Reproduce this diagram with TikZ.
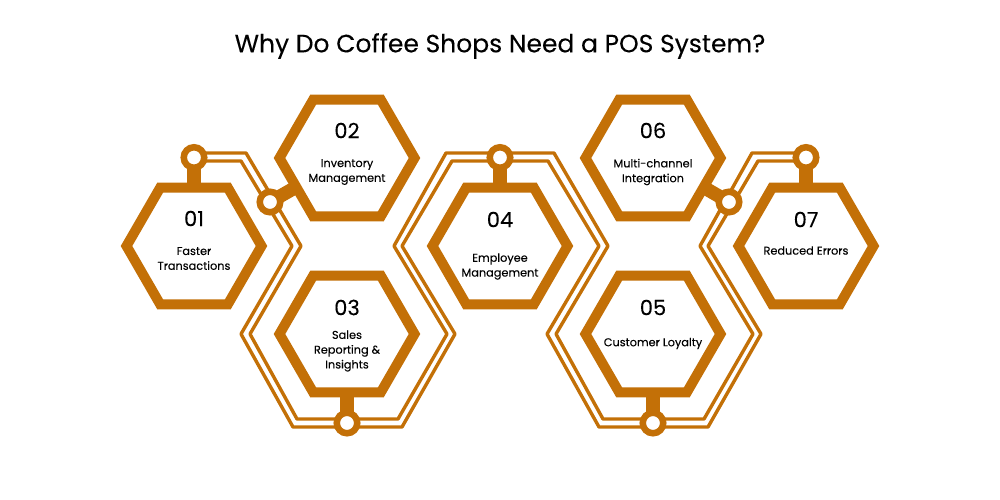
\documentclass[tikz,border=0pt]{standalone}
\usepackage{fontspec}
\setmainfont{Poppins}[FakeBold=0.12]
\usetikzlibrary{shapes.geometric,backgrounds}
\definecolor{brew}{HTML}{C37007}
\tikzset{
  x=1pt,y=-1pt,
  hexa/.style={regular polygon,regular polygon sides=6,minimum size=135pt,inner sep=0pt,outer sep=0pt,draw=brew,line width=10pt,fill=white,line join=miter},
  hub/.style={circle,minimum size=20.5pt,inner sep=0pt,outer sep=0pt,draw=brew,line width=6.5pt,fill=white},
  stem/.style={draw=brew,line width=13.5pt},
  wire/.style={draw=brew,line width=3.4pt,line join=round},
  num/.style={font=\fontsize{21}{24}\selectfont,text=black,inner sep=0pt},
  lab/.style={font=\fontsize{11.3}{14.8}\selectfont,text=black,align=center,inner sep=0pt},
  ttl/.style={font=\fontsize{25}{30}\selectfont,text=black,inner sep=0pt}
}
\begin{document}
\begin{tikzpicture}
\useasboundingbox (0,0) rectangle (1000,500);
\node[ttl] (title) at (500,46) {Why Do Coffee Shops Need a POS System?};
% hexagons
\node[hexa] (h1) at (194,246) {};
\node[hexa] (h2) at (347,158) {};
\node[hexa] (h3) at (347,334) {};
\node[hexa] (h4) at (500,246) {};
\node[hexa] (h5) at (653,334) {};
\node[hexa] (h6) at (653,158) {};
\node[hexa] (h7) at (806,246) {};
% hubs
\node[hub] (c1) at (194,157.5) {};
\node[hub] (c2) at (270,202) {};
\node[hub] (c3) at (347,423) {};
\node[hub] (c4) at (500,157.5) {};
\node[hub] (c5) at (653,423) {};
\node[hub] (c6) at (729,202) {};
\node[hub] (c7) at (806,157.5) {};
% numbers
\node[num] (n1) at (194,218.5) {01};
\node[num] (n2) at (347,130.5) {02};
\node[num] (n3) at (347,307.5) {03};
\node[num] (n4) at (500,219.5) {04};
\node[num] (n5) at (653,307.5) {05};
\node[num] (n6) at (653,130.5) {06};
\node[num] (n7) at (806,219.5) {07};
% labels
\node[lab] (l1) at (194,258.5) {Faster\\Transactions};
\node[lab] (l2) at (347,172) {Inventory\\Management};
\node[lab] (l3) at (347,351) {Sales\\Reporting \&\\Insights};
\node[lab] (l4) at (500,266.5) {Employee\\Management};
\node[lab] (l5) at (653,343.5) {Customer Loyalty};
\node[lab] (l6) at (653,172) {Multi-channel\\Integration};
\node[lab] (l7) at (806,250.5) {Reduced Errors};
\begin{scope}[on background layer]
  \draw[wire] ([yshift=4.5pt]c1.center) -- (246,153) -- (301,246) -- (250,334) -- (297,419) -- (398,419)
    -- (447,334) -- (394,246) -- (446,153) -- (554,153) -- (608,246) -- (556,334) -- (603,419) -- (704,419)
    -- (753,334) -- (700,246) -- (752,153) -- ([yshift=4.5pt]c7.center);
  \draw[wire] ([yshift=-3.5pt]c1.center) -- (241,161) -- (292,246) -- (241,334) -- (293,427) -- (402,427)
    -- (455,334) -- (402,246) -- (452,161) -- (548,161) -- (599,246) -- (547,334) -- (599,427) -- (708,427)
    -- (761,334) -- (708,246) -- (758,161) -- ([yshift=-3.5pt]c7.center);
  \draw[stem] (c1) -- (h1);
  \draw[stem] (c2) -- (h2);
  \draw[stem] (c3) -- (h3);
  \draw[stem] (c4) -- (h4);
  \draw[stem] (c5) -- (h5);
  \draw[stem] (c6) -- (h6);
  \draw[stem] (c7) -- (h7);
\end{scope}
\end{tikzpicture}
\end{document}
